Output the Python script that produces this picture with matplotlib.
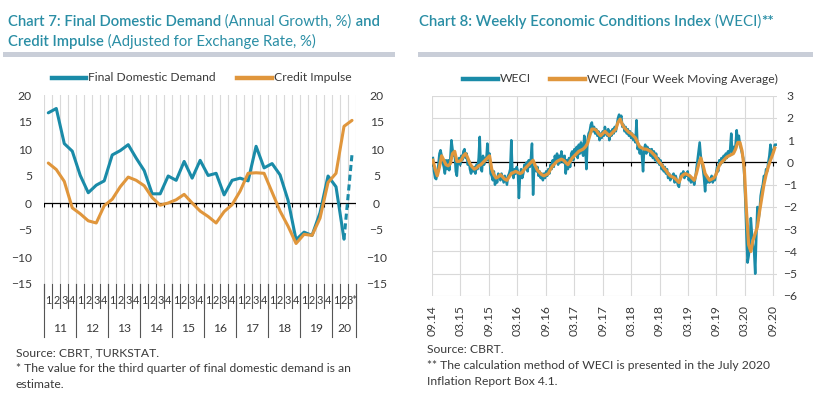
import numpy as np
import pandas as pd
import matplotlib
matplotlib.use('Agg')
import matplotlib.pyplot as plt
from matplotlib.transforms import blended_transform_factory

plt.rcParams['font.family'] = ['Lato', 'DejaVu Sans']

W, H = 827, 397
TEAL = '#1A8BA8'
ORANGE = '#E0963C'
TITLE_C = '#2A8EA5'
GRID = '#D9D9D9'
TXT = '#3A3A3A'
BAR = '#C9CED8'

# ---- chart 7: quarterly, 2011Q1 - 2020Q3
years = ['11', '12', '13', '14', '15', '16', '17', '18', '19', '20']
quarters = ['1', '2', '3', '4'] * 9 + ['1', '2', '3*']
fdd = [16.7, 17.5, 11.0, 9.6, 5.1, 1.9, 3.3, 4.1, 8.9, 9.7, 10.8, 8.3,
       6.0, 1.7, 1.7, 5.0, 4.2, 7.7, 4.6, 7.9, 5.1, 5.5, 1.5, 4.2,
       4.6, 4.1, 10.5, 6.5, 7.3, 5.2, 0.5, -6.8, -5.4, -6.0, -1.8, 5.0,
       3.0, -6.7, 9.0]
credit = [7.4, 6.2, 4.0, -0.9, -2.0, -3.3, -3.7, -0.5, 0.7, 3.0, 4.8, 4.2,
          3.2, 1.0, -0.4, 0.0, 0.6, 1.6, 0.0, -1.5, -2.5, -3.7, -1.6, -0.3,
          2.2, 5.5, 5.6, 5.5, 2.0, -1.5, -4.3, -7.5, -5.8, -6.0, -2.8, 3.8,
          5.5, 14.2, 15.3]

# ---- chart 8: weekly WECI from early Sep 2014
weci_start = '2014-09-05'
weci = [0.2, -0.4, -0.7, -0.75, -0.5, -0.1, 0.4, 0.55, 0.3, 0.0,
        -0.2, -0.5, 0.1, -0.3, 0.1, -0.35, 0.2, 1.0, 0.6, 0.3,
        0.4, -0.4, -0.6, 0.1, 0.2, -0.1, 0.3, 0.1, 0.5, 0.6,
        0.2, 0.4, -0.1, 0.1, -0.3, -0.5, -0.2, -0.4, -0.2, -0.5,
        -0.1, -0.3, 0.2, 1.15, -0.3, -0.4, 0.3, -0.1, 0.2, 0.1,
        0.85, 0.1, 0.4, -0.5, -0.6, -0.8, -0.4, -1.0, -0.7, -0.9,
        -0.5, -0.6, -0.8, -0.5, -0.7, -0.9, -0.6, -0.8, -1.0, -0.6,
        -0.5, -0.3, 1.0, -0.4, -0.7, -0.3, -0.5, -0.2, -0.4, -1.6,
        -0.6, -0.3, -0.7, -0.5, -0.1, -0.3, 0.0, -0.4, 0.1, -0.2,
        0.2, 0.85, -1.45, -0.2, -0.3, -0.4, -0.2, -0.6, -0.4, -0.7,
        -0.5, -0.8, -0.5, -0.7, -0.4, -0.6, -0.3, -0.5, -0.1, -0.3,
        0.1, -0.2, 0.3, 0.0, 0.4, -0.1, 0.3, 0.0, 0.5, 0.2,
        0.0, 0.3, -0.5, 0.1, -0.3, 0.2, -0.2, 0.4, 0.5, 0.1,
        0.6, 0.3, 0.7, 0.2, 0.8, 0.4, 0.9, 0.5, 0.3, 1.2,
        0.6, -0.3, 1.0, 1.3, 1.4, 1.7, 1.8, 1.4, 1.6, 1.3,
        1.5, 1.2, 1.4, 1.0, 1.3, 1.1, 1.4, 1.2, 1.6, 1.3,
        1.2, 1.5, 1.0, 1.4, 1.2, 1.5, 1.3, 1.6, 1.4, 1.7,
        2.0, 2.15, 1.9, 2.1, 1.6, 1.7, 1.4, 1.6, 1.3, 1.5,
        1.2, 1.4, 1.1, 1.3, 1.0, 1.2, 0.9, 1.9, 0.6, 0.8,
        0.4, 0.7, 0.3, -0.4, 0.6, 0.8, 0.4, 0.7, 0.5, 0.6,
        0.3, 0.6, 0.2, 0.5, 0.1, 0.4, 0.0, 0.2, -0.1, 0.1,
        -0.3, -0.1, -0.4, -0.2, -0.5, -0.3, -0.7, -0.5, -0.8, -0.6,
        -0.7, -0.5, -0.9, -0.6, -0.8, -1.0, -1.1, -0.7, -0.5, -0.6,
        -0.4, -0.7, -0.5, -0.6, -0.4, -0.8, -0.6, -0.9, -0.7, -0.8,
        -1.0, -0.7, -0.3, 0.1, 0.5, 0.9, 0.3, 0.0, -0.3, -0.7,
        -1.3, -0.6, -0.9, -0.7, -0.9, -0.8, -0.6, -0.9, -0.7, -0.8,
        -0.5, -0.2, -0.4, 0.1, -0.1, 0.2, 0.0, 0.3, 0.1, 0.4,
        0.2, 0.5, 0.3, 0.6, 1.3, 0.4, 0.7, 0.5, 0.8, 1.45,
        0.9, 1.2, 0.8, 0.6, 0.4, 0.2, -0.6, -1.8, -3.3, -4.5,
        -4.2, -3.8, -2.5, -3.2, -3.6, -4.0, -5.0, -3.4, -2.0, -2.6,
        -2.2, -1.5, -1.2, -1.0, -0.6, -0.7, -0.3, -0.4, 0.0, 0.3,
        0.8, 0.3, 0.5, 0.6, 0.8, 0.8]
# four week moving average, read every second week
weci_ma = [0.1, -0.3, -0.6, -0.2, 0.3, 0.1, -0.1, -0.15, -0.05, 0.4,
           0.5, 0.05, 0.05, 0.1, 0.3, 0.4, 0.2, -0.05, -0.2, -0.3,
           -0.25, -0.15, -0.1, 0.0, 0.1, 0.2, 0.3, -0.3, -0.55, -0.7,
           -0.65, -0.55, -0.65, -0.75, -0.8, -0.65, -0.5, -0.45, -0.4, -0.45,
           -0.5, -0.45, -0.3, -0.2, -0.1, 0.0, 0.1, -0.15, -0.35, -0.45,
           -0.55, -0.6, -0.55, -0.5, -0.3, -0.15, -0.05, 0.05, 0.1, 0.15,
           0.1, 0.0, -0.1, 0.05, 0.2, 0.3, 0.4, 0.5, 0.55, 0.6,
           0.7, 0.85, 1.2, 1.5, 1.5, 1.45, 1.3, 1.2, 1.3, 1.4,
           1.3, 1.2, 1.3, 1.4, 1.5, 1.8, 1.95, 1.7, 1.55, 1.45,
           1.35, 1.3, 1.2, 1.1, 0.9, 0.7, 0.65, 0.6, 0.6, 0.55,
           0.5, 0.4, 0.3, 0.15, 0.0, -0.1, -0.25, -0.35, -0.5, -0.6,
           -0.65, -0.7, -0.8, -0.9, -0.65, -0.55, -0.5, -0.55, -0.6, -0.7,
           -0.8, -0.5, -0.1, 0.2, -0.1, -0.5, -0.65, -0.8, -0.75, -0.7,
           -0.55, -0.25, -0.05, 0.05, 0.15, 0.25, 0.3, 0.35, 0.4, 0.6,
           0.9, 0.9, 0.5, -0.3, -2.2, -3.7, -4.0, -3.5, -3.2, -2.9,
           -2.2, -1.6, -1.0, -0.55, -0.2, 0.1, 0.35, 0.65]
date_ticks = ['2014-09-01', '2015-03-01', '2015-09-01', '2016-03-01', '2016-09-01',
              '2017-03-01', '2017-09-01', '2018-03-01', '2018-09-01', '2019-03-01',
              '2019-09-01', '2020-03-01', '2020-09-01']
date_labels = ['09.14', '03.15', '09.15', '03.16', '09.16', '03.17', '09.17',
               '03.18', '09.18', '03.19', '09.19', '03.20', '09.20']


def fx(px):
    return px / W


def fy(py):
    return 1 - py / H


fig = plt.figure(figsize=(W / 100, H / 100), dpi=100)
renderer = fig.canvas.get_renderer()


def rich_line(x, y, parts, size):
    # write bold / normal pieces one after another on one baseline
    x = fx(x)
    for s, w in parts:
        t = fig.text(x, fy(y), s, fontsize=size, fontweight=w, color=TITLE_C, va='baseline')
        bb = t.get_window_extent(renderer=renderer)
        x = bb.x1 / fig.bbox.width
    return x * W


def fit_size(parts, width, size=10.0):
    # font size that makes the pieces span the given pixel width
    total = 0
    for s, w in parts:
        t = fig.text(0, 0, s, fontsize=size, fontweight=w)
        total += t.get_window_extent(renderer=renderer).width
        t.remove()
    return size * width / total


def legend_item(x0, x1, y, color, label):
    fig.add_artist(plt.Line2D([fx(x0), fx(x1)], [fy(y), fy(y)], color=color, lw=3.2,
                              transform=fig.transFigure))
    fig.text(fx(x1 + 2), fy(y), label, fontsize=8.7, color=TXT, va='center')


# titles
t7a = [('Chart 7: Final Domestic Demand', 'semibold'), (' (Annual Growth, %)', 'normal'), (' and', 'semibold')]
t7b = [('Credit Impulse', 'semibold'), (' (Adjusted for Exchange Rate, %)', 'normal')]
t8 = [('Chart 8: Weekly Economic Conditions Index', 'semibold'), (' (WECI)', 'normal'), ('**', 'bold')]
s7 = fit_size(t7a, 375)
rich_line(8, 25.7, t7a, s7)
rich_line(8, 45.7, t7b, s7)
rich_line(419, 25.7, t8, fit_size(t8, 356))

for x0, x1 in [(3, 395), (418, 813)]:
    fig.add_artist(plt.Rectangle((fx(x0), fy(57)), fx(x1 - x0), 5 / H, color=BAR,
                                 transform=fig.transFigure, lw=0))

legend_item(52, 86, 77.5, TEAL, 'Final Domestic Demand')
legend_item(237, 272, 77.5, ORANGE, 'Credit Impulse')
legend_item(463, 498, 79, TEAL, 'WECI')
legend_item(550, 585, 79, ORANGE, 'WECI (Four Week Moving Average)')

# ---------------- chart 7
ax1 = fig.add_axes([fx(44.3), fy(284), fx(356 - 44.3), (284 - 95) / H])
n = len(fdd)
xs = np.arange(n)
ax1.set_xlim(-0.5, n - 0.5)
ax1.set_ylim(-15, 20)
for s in ax1.spines.values():
    s.set_visible(False)
for b in np.arange(-0.5, n):
    ax1.axvline(b, color=GRID, lw=0.8, zorder=0)
ax1.axhline(0, color='black', lw=0.9, zorder=1)
ax1.vlines(np.arange(-0.5, n), -0.75, 0, color='black', lw=0.8, zorder=1)
ax1.plot(xs[:-1], fdd[:-1], color=TEAL, lw=2.2, zorder=3, solid_capstyle='round')
ax1.plot(xs[-2:], fdd[-2:], color=TEAL, lw=2.2, ls=(0, (2, 1.2)), zorder=3)
ax1.plot(xs, credit, color=ORANGE, lw=2.2, zorder=4, solid_capstyle='round')
ax1.set_xticks([])
ax1.set_yticks(range(-15, 21, 5))
ax1.tick_params(axis='y', length=0, pad=8.9, labelsize=8.7, labelcolor=TXT)
ax1r = ax1.twinx()
ax1r.set_ylim(-15, 20)
ax1r.set_yticks(range(-15, 21, 5))
ax1r.tick_params(axis='y', length=0, pad=14.8, labelsize=8.7, labelcolor=TXT)
for lab in ax1r.get_yticklabels():
    lab.set_horizontalalignment('center')
for s in ax1r.spines.values():
    s.set_visible(False)

# two-level category labels
tr = blended_transform_factory(ax1.transData, ax1.transAxes)
for i, q in enumerate(quarters):
    ax1.text(i, -0.085, q, transform=tr, ha='center', va='center', fontsize=7.8, color=TXT)
for b in np.arange(-0.5, n):
    ax1.plot([b, b], [0, -0.125], transform=tr, color='#555555', lw=0.8, clip_on=False)
year_edges = list(np.arange(-0.5, n, 4)) + [n - 0.5]
for k, y in enumerate(years):
    a, b = year_edges[k], year_edges[k + 1]
    ax1.text((a + b) / 2, -0.233, y, transform=tr, ha='center', va='center', fontsize=8.7, color=TXT)
for b in year_edges:
    ax1.plot([b, b], [0, -0.28], transform=tr, color='#555555', lw=0.8, clip_on=False)

# ---------------- chart 8
ax2 = fig.add_axes([fx(432.3), fy(296), fx(776.5 - 432.3), (296 - 95.7) / H])
wd = pd.date_range(weci_start, periods=len(weci), freq='7D')
md = pd.date_range(weci_start, periods=len(weci_ma), freq='14D')
tick_dates = pd.to_datetime(date_ticks)
ax2.set_xlim(pd.Timestamp('2014-09-01'), pd.Timestamp('2020-09-22'))
ax2.set_ylim(-6, 3)
for s in ax2.spines.values():
    s.set_visible(False)
ax2.set_yticks(range(-6, 4))
ax2.set_xticks(tick_dates)
ax2.set_xticklabels(date_labels, rotation=90)
ax2.grid(True, color=GRID, lw=0.8, zorder=0)
ax2.set_axisbelow(True)
ax2.axhline(0, color='black', lw=0.9, zorder=1)
ax2.vlines(tick_dates, -0.18, 0, color='black', lw=0.8, zorder=1)
ax2.plot(wd, weci, color=TEAL, lw=1.8, zorder=3)
ax2.plot(md, weci_ma, color=ORANGE, lw=2.3, zorder=4)
ax2.yaxis.tick_right()
ax2.tick_params(axis='y', length=0, pad=10, labelsize=8.7, labelcolor=TXT)
for lab in ax2.get_yticklabels():
    lab.set_horizontalalignment('center')
ax2.tick_params(axis='x', length=0, pad=6.5, labelsize=8.7, labelcolor=TXT)

# footnotes
foot = dict(fontsize=8.7, color=TXT, va='baseline')
fig.text(fx(16), fy(356), 'Source: CBRT, TURKSTAT.', **foot)
fig.text(fx(16), fy(372), '* The value for the third quarter of final domestic demand is an', **foot)
fig.text(fx(16), fy(388), 'estimate.', **foot)
fig.text(fx(427), fy(353), 'Source: CBRT.', **foot)
fig.text(fx(427), fy(369), '** The calculation method of WECI is presented in the July 2020', **foot)
fig.text(fx(427), fy(385), 'Inflation Report Box 4.1.', **foot)

fig.savefig('out.png', dpi=100)
